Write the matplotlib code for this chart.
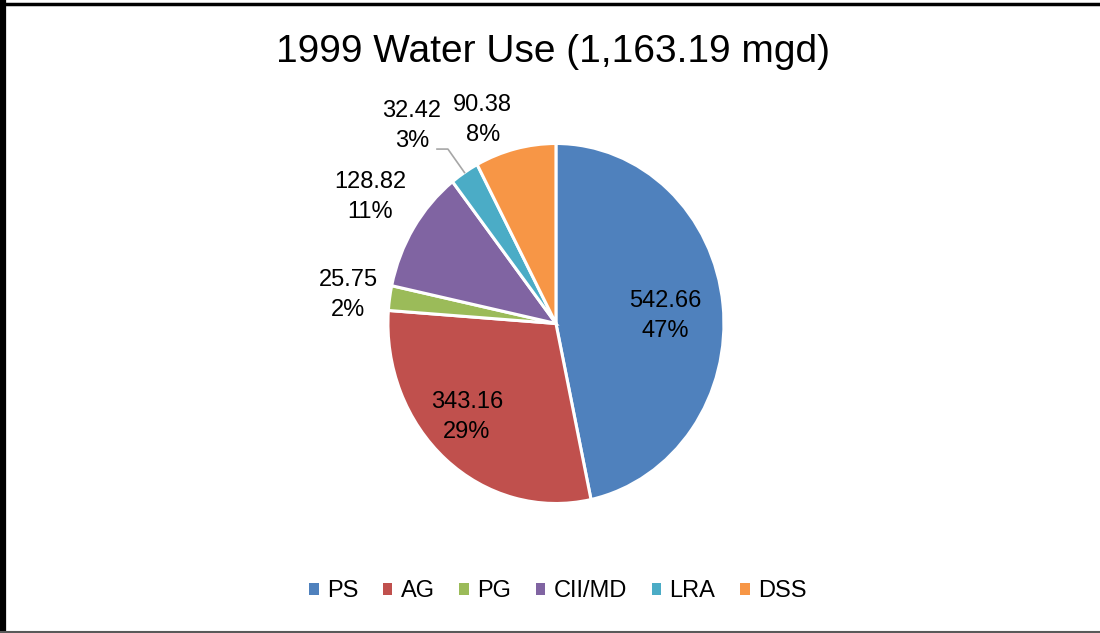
import matplotlib
matplotlib.use("Agg")
import matplotlib.pyplot as plt
from matplotlib.patches import Patch
from matplotlib.lines import Line2D
import numpy as np

plt.rcParams['font.family'] = ['Liberation Sans', 'DejaVu Sans']

# data
categories = ['PS', 'AG', 'PG', 'CII/MD', 'LRA', 'DSS']
values = [542.66, 343.16, 25.75, 128.82, 32.42, 90.38]
percents = ['47%', '29%', '2%', '11%', '3%', '8%']
colors = ['#4F81BD', '#C0504D', '#9BBB59', '#8064A2', '#4BACC6', '#F79646']

# label positions in pie units (radius = 1)
label_pos = [(0.649, 0.04), (-0.53, -0.52), (-1.238, 0.158),
             (-1.107, 0.703), (-0.857, 1.097), (-0.435, 1.131)]

fig = plt.figure(figsize=(11, 6.33), dpi=100)
ax = fig.add_axes([0.3145, 0.1335, 0.3818, 0.7109])

wedges, _ = ax.pie(values, colors=colors, startangle=90, counterclock=False,
                   wedgeprops=dict(edgecolor='white', linewidth=2.2))
ax.set_aspect('auto')
ax.set_xlim(-1.25, 1.25)
ax.set_ylim(-1.25, 1.25)
ax.axis('off')

for (x, y), v, p in zip(label_pos, values, percents):
    ax.text(x, y, '{:.2f}\n{}'.format(v, p), ha='center', va='center',
            fontsize=17, linespacing=1.45)

# leader line for the small LRA slice
w = wedges[4]
mid = np.deg2rad((w.theta1 + w.theta2) / 2)
ax.plot([np.cos(mid), -0.643, -0.708], [np.sin(mid), 0.969, 0.969],
        color='#A6A6A6', lw=1.2, clip_on=False)

fig.text(0.503, 1 - 52 / 633, '1999 Water Use (1,163.19 mgd)',
         ha='center', va='center', fontsize=28)

handles = [Patch(facecolor=c, edgecolor='none') for c in colors]
fig.legend(handles, categories, loc='center', bbox_to_anchor=(0.507, 0.066),
           ncol=6, frameon=False, fontsize=17, handlelength=0.4,
           handleheight=0.4, handletextpad=0.35, columnspacing=1.05)

# chart frame
fig.add_artist(Line2D([0, 1], [1 - 4 / 633, 1 - 4 / 633], color='black', lw=2.5,
                      transform=fig.transFigure))
fig.add_artist(Line2D([3 / 1100, 3 / 1100], [0, 1], color='black', lw=4.5,
                      transform=fig.transFigure))
fig.add_artist(Line2D([0, 1], [1.5 / 633, 1.5 / 633], color='#595959', lw=1.5,
                      transform=fig.transFigure))

fig.savefig('out.png', dpi=100)
